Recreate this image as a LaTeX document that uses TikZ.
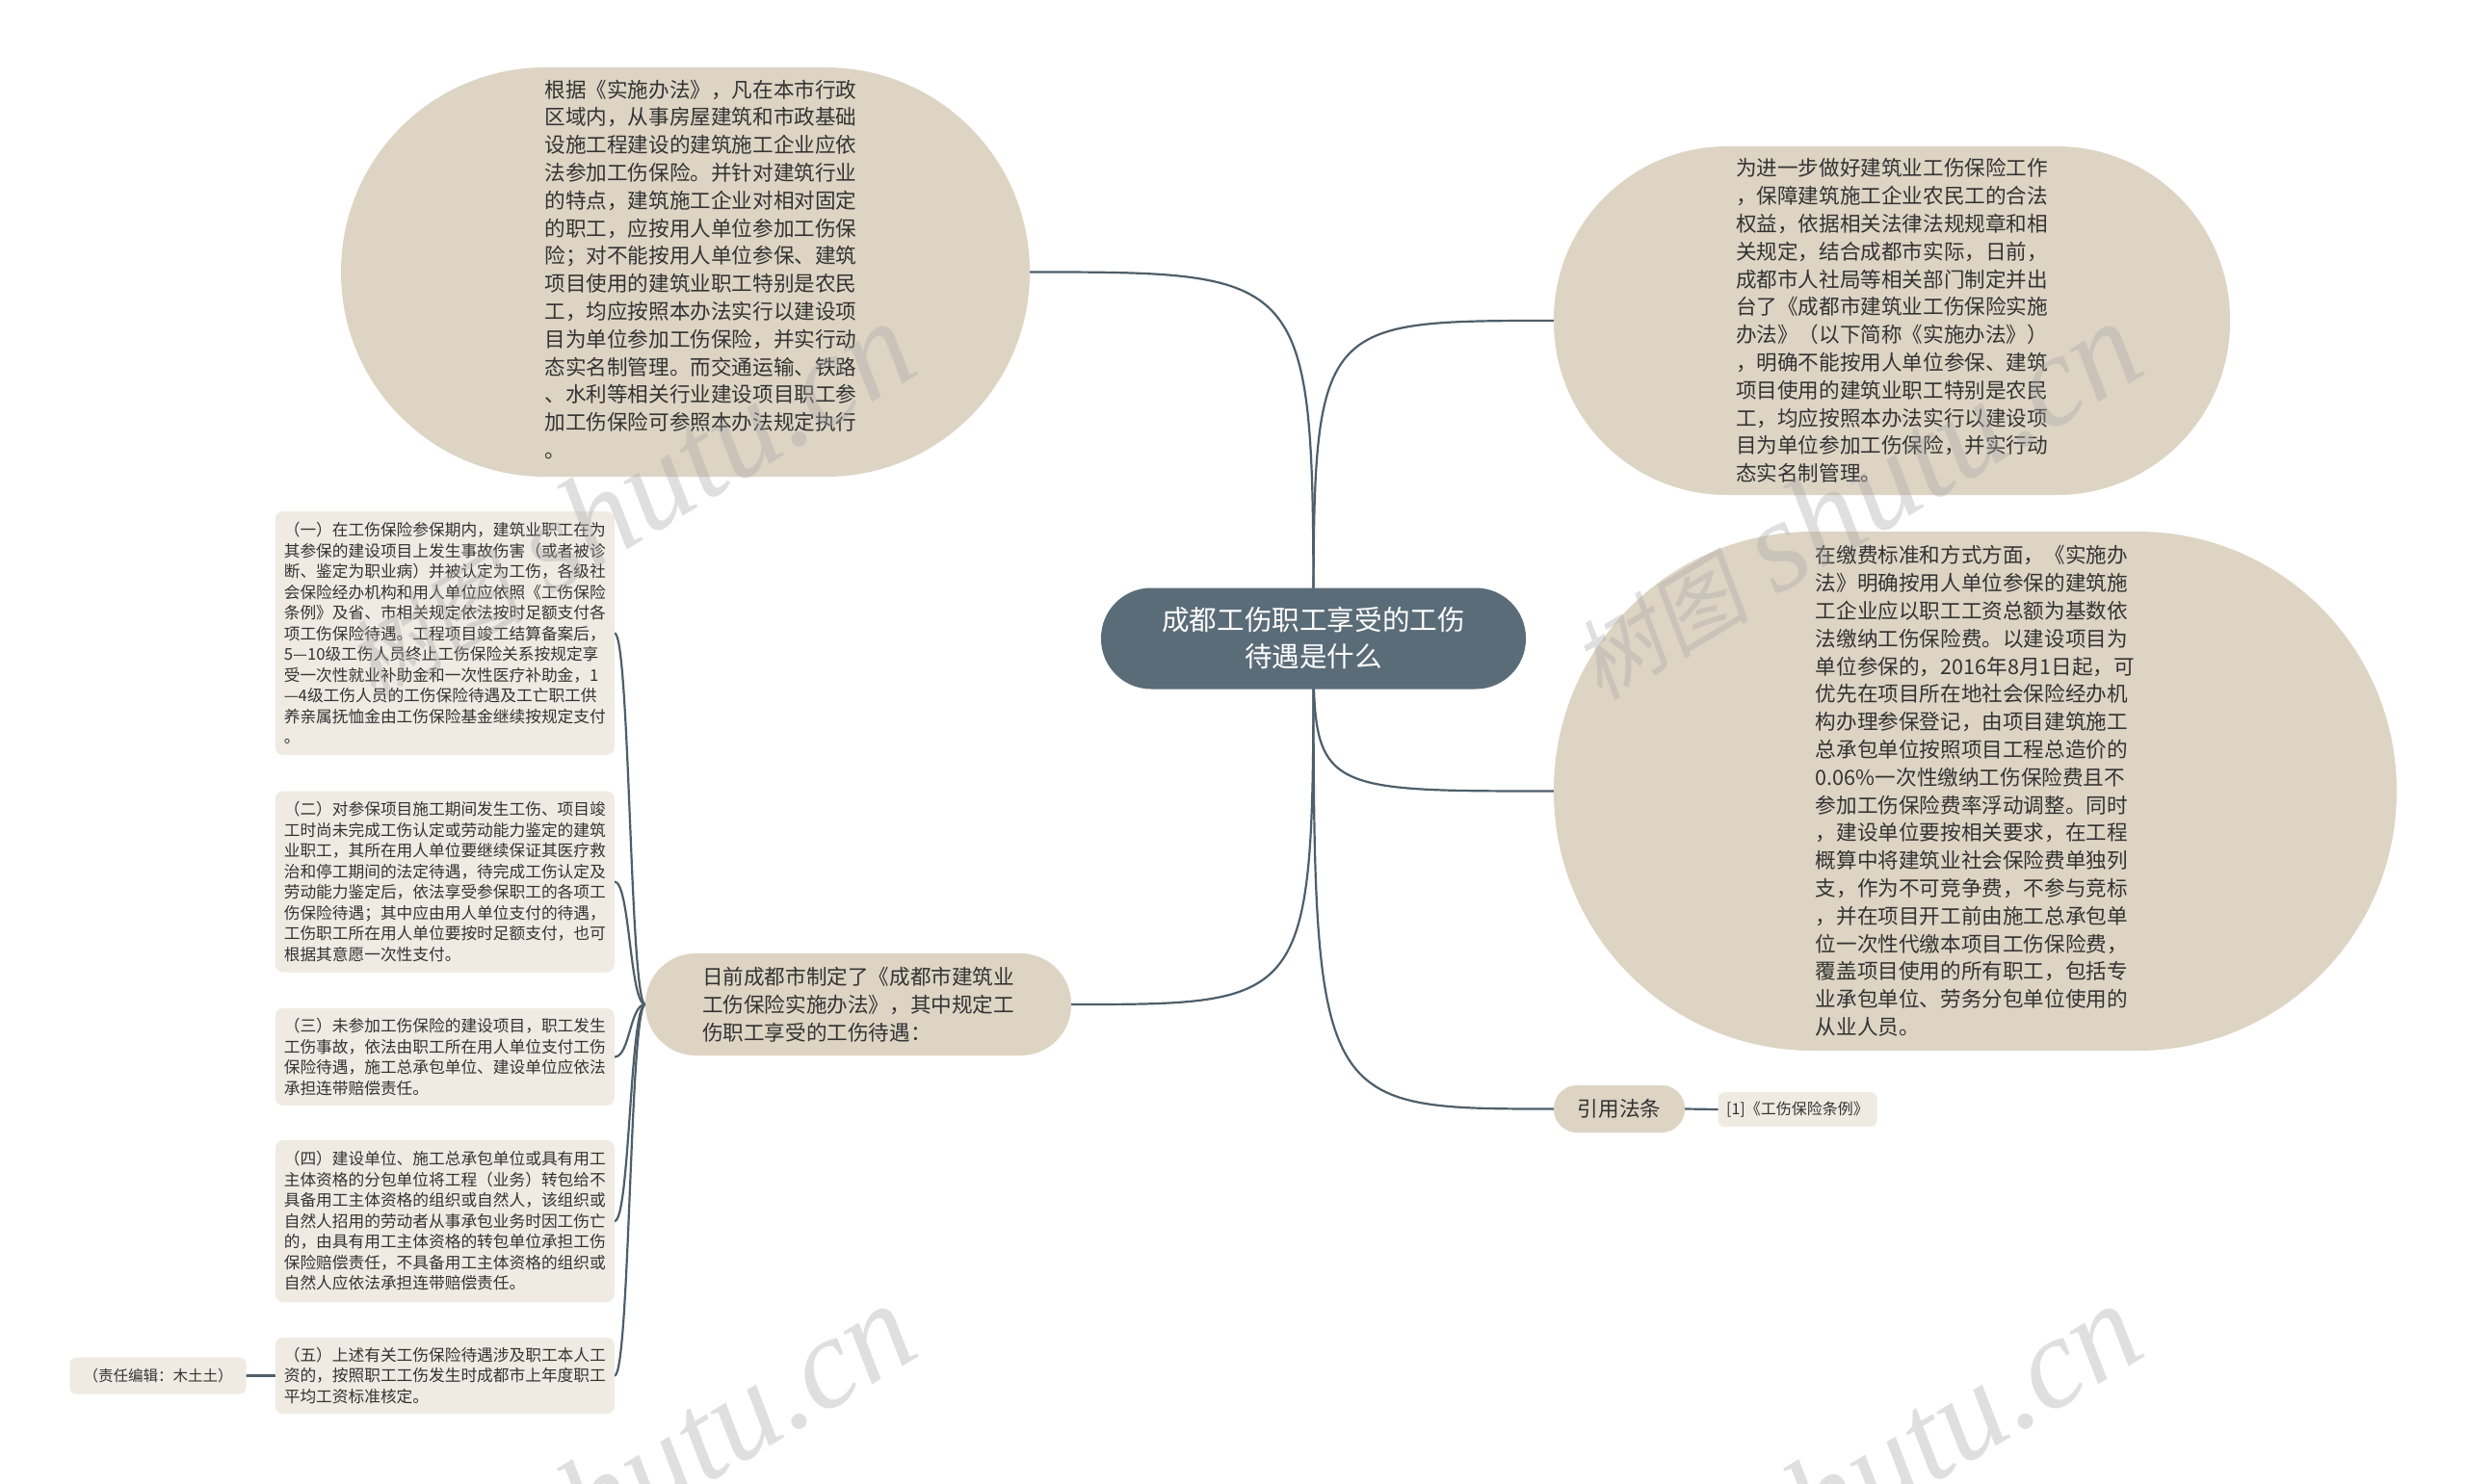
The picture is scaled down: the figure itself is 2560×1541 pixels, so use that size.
\documentclass[tikz,border=0pt]{standalone}
\usepackage{fontspec}
\setmainfont{Noto Sans CJK SC}
\newfontfamily\wmcjk[FakeSlant=0.18]{Noto Sans CJK SC}
\newfontfamily\wmlat{Liberation Serif}
\usetikzlibrary{calc}
\pgfdeclarelayer{bg}
\pgfdeclarelayer{fg}
\pgfsetlayers{bg,main,fg}
\definecolor{beige}{RGB}{221,212,196}
\definecolor{leafcol}{RGB}{239,235,227}
\definecolor{rootcol}{RGB}{91,108,121}
\definecolor{edgecol}{RGB}{78,94,106}
\definecolor{txt}{RGB}{51,51,51}
\tikzset{
  big/.style={rectangle, fill=beige, text=txt, align=left, inner sep=0pt,
    font=\fontsize{21.6}{28.8}\selectfont},
  leaf/.style={rectangle, fill=leafcol, text=txt, align=left, inner sep=0pt,
    rounded corners=8pt, minimum width=352pt, anchor=east,
    font=\fontsize{16.7}{21.5}\selectfont},
  small/.style={rectangle, fill=leafcol, text=txt, inner sep=0pt,
    rounded corners=7pt, font=\fontsize{15.5}{18}\selectfont},
  edge/.style={draw=edgecol, line width=2.2pt, line cap=round},
  wm/.style={text=gray!70, opacity=0.35, rotate=31, inner sep=0pt}
}
\newcommand{\wmtext}{{\fontsize{92}{100}\wmcjk 树图}\hspace{28pt}{\fontsize{135}{140}\wmlat\itshape shutu.cn}}
\begin{document}
\begin{tikzpicture}[x=1pt,y=-1pt]
\useasboundingbox (0,0) rectangle (2560,1541);
\begin{pgfonlayer}{bg}
\fill[white] (0,0) rectangle (2560,1541);
\end{pgfonlayer}

% root
\node[rectangle, fill=rootcol, text=white, align=center, inner sep=0pt,
  minimum width=441pt, minimum height=105pt, rounded corners=52pt,
  font=\fontsize{28.6}{38}\selectfont] (root) at (1363.5,663)
  {成都工伤职工享受的工伤\\待遇是什么};

% top-left
\node[big, minimum width=715pt, minimum height=425pt, rounded corners=212pt] (tl) at (711.5,282.5)
{\begin{tabular}{@{\hspace{32pt}}l@{}}
根据《实施办法》，凡在本市行政\\
区域内，从事房屋建筑和市政基础\\
设施工程建设的建筑施工企业应依\\
法参加工伤保险。并针对建筑行业\\
的特点，建筑施工企业对相对固定\\
的职工，应按用人单位参加工伤保\\
险；对不能按用人单位参保、建筑\\
项目使用的建筑业职工特别是农民\\
工，均应按照本办法实行以建设项\\
目为单位参加工伤保险，并实行动\\
态实名制管理。而交通运输、铁路\\
、水利等相关行业建设项目职工参\\
加工伤保险可参照本办法规定执行\\
。
\end{tabular}};

% top-right
\node[big, minimum width=702pt, minimum height=362pt, rounded corners=180pt] (tr) at (1964,333)
{为进一步做好建筑业工伤保险工作\\
，保障建筑施工企业农民工的合法\\
权益，依据相关法律法规规章和相\\
关规定，结合成都市实际，日前，\\
成都市人社局等相关部门制定并出\\
台了《成都市建筑业工伤保险实施\\
办法》（以下简称《实施办法》）\\
，明确不能按用人单位参保、建筑\\
项目使用的建筑业职工特别是农民\\
工，均应按照本办法实行以建设项\\
目为单位参加工伤保险，并实行动\\
态实名制管理。};

% right big
\node[big, minimum width=875pt, minimum height=539pt, rounded corners=269pt] (rb) at (2050.5,821.5)
{在缴费标准和方式方面，《实施办\\
法》明确按用人单位参保的建筑施\\
工企业应以职工工资总额为基数依\\
法缴纳工伤保险费。以建设项目为\\
单位参保的，2016年8月1日起，可\\
优先在项目所在地社会保险经办机\\
构办理参保登记，由项目建筑施工\\
总承包单位按照项目工程总造价的\\
0.06\%一次性缴纳工伤保险费且不\\
参加工伤保险费率浮动调整。同时\\
，建设单位要按相关要求，在工程\\
概算中将建筑业社会保险费单独列\\
支，作为不可竞争费，不参与竞标\\
，并在项目开工前由施工总承包单\\
位一次性代缴本项目工伤保险费，\\
覆盖项目使用的所有职工，包括专\\
业承包单位、劳务分包单位使用的\\
从业人员。};

% left middle
\node[big, minimum width=442pt, minimum height=106pt, rounded corners=52.5pt] (mid) at (891,1043)
{日前成都市制定了《成都市建筑业\\
工伤保险实施办法》，其中规定工\\
伤职工享受的工伤待遇：};

% cite
\node[big, minimum width=136pt, minimum height=49pt, rounded corners=24pt] (cite) at (1681,1151.5) {引用法条};
\node[small, minimum width=165pt, minimum height=36pt, font=\fontsize{16}{18}\selectfont] (ref) at (1866,1152) {[1]《工伤保险条例》};

% leaves
\node[leaf, minimum height=253pt] (l1) at (638,657.5)
{（一）在工伤保险参保期内，建筑业职工在为\\
其参保的建设项目上发生事故伤害（或者被诊\\
断、鉴定为职业病）并被认定为工伤，各级社\\
会保险经办机构和用人单位应依照《工伤保险\\
条例》及省、市相关规定依法按时足额支付各\\
项工伤保险待遇。工程项目竣工结算备案后，\\
5—10级工伤人员终止工伤保险关系按规定享\\
受一次性就业补助金和一次性医疗补助金，1\\
—4级工伤人员的工伤保险待遇及工亡职工供\\
养亲属抚恤金由工伤保险基金继续按规定支付\\
。};
\node[leaf, minimum height=188pt] (l2) at (638,915.5)
{（二）对参保项目施工期间发生工伤、项目竣\\
工时尚未完成工伤认定或劳动能力鉴定的建筑\\
业职工，其所在用人单位要继续保证其医疗救\\
治和停工期间的法定待遇，待完成工伤认定及\\
劳动能力鉴定后，依法享受参保职工的各项工\\
伤保险待遇；其中应由用人单位支付的待遇，\\
工伤职工所在用人单位要按时足额支付，也可\\
根据其意愿一次性支付。};
\node[leaf, minimum height=101pt] (l3) at (638,1097.5)
{（三）未参加工伤保险的建设项目，职工发生\\
工伤事故，依法由职工所在用人单位支付工伤\\
保险待遇，施工总承包单位、建设单位应依法\\
承担连带赔偿责任。};
\node[leaf, minimum height=168pt] (l4) at (638,1268)
{（四）建设单位、施工总承包单位或具有用工\\
主体资格的分包单位将工程（业务）转包给不\\
具备用工主体资格的组织或自然人，该组织或\\
自然人招用的劳动者从事承包业务时因工伤亡\\
的，由具有用工主体资格的转包单位承担工伤\\
保险赔偿责任，不具备用工主体资格的组织或\\
自然人应依法承担连带赔偿责任。};
\node[leaf, minimum height=79pt] (l5) at (638,1428.5)
{（五）上述有关工伤保险待遇涉及职工本人工\\
资的，按照职工工伤发生时成都市上年度职工\\
平均工资标准核定。};

\node[small, minimum width=183pt, minimum height=38pt] (ed) at (164,1428.5) {（责任编辑：木土土）};

% connectors
\begin{pgfonlayer}{bg}
\draw[edge] (root.center) .. controls (root.center |- tl.east) .. (tl.east);
\draw[edge] (root.center) .. controls (root.center |- tr.west) .. (tr.west);
\draw[edge] (root.center) .. controls (root.center |- rb.west) .. (rb.west);
\draw[edge] (root.center) .. controls (root.center |- cite.west) .. (cite.west);
\draw[edge] (root.center) .. controls (root.center |- mid.east) .. (mid.east);
\draw[edge] (cite.east) -- (ref.west);
\foreach \l in {l1,l2,l3,l4,l5}{
  \draw[edge] (mid.west) .. controls ([xshift=-16pt]mid.west) and ([xshift=16pt]\l.east) .. (\l.east);
}
\draw[edge] (l5.west) -- (ed.east);
\end{pgfonlayer}

% watermarks
\begin{pgfonlayer}{fg}
\node[wm] (wm1) at (1925,520) {\wmtext};
\node[wm] (wm2) at (652,520) {\wmtext};
\node[wm] (wm3) at (1925,1540) {\wmtext};
\node[wm] (wm4) at (652,1540) {\wmtext};
\end{pgfonlayer}
\end{tikzpicture}
\end{document}
